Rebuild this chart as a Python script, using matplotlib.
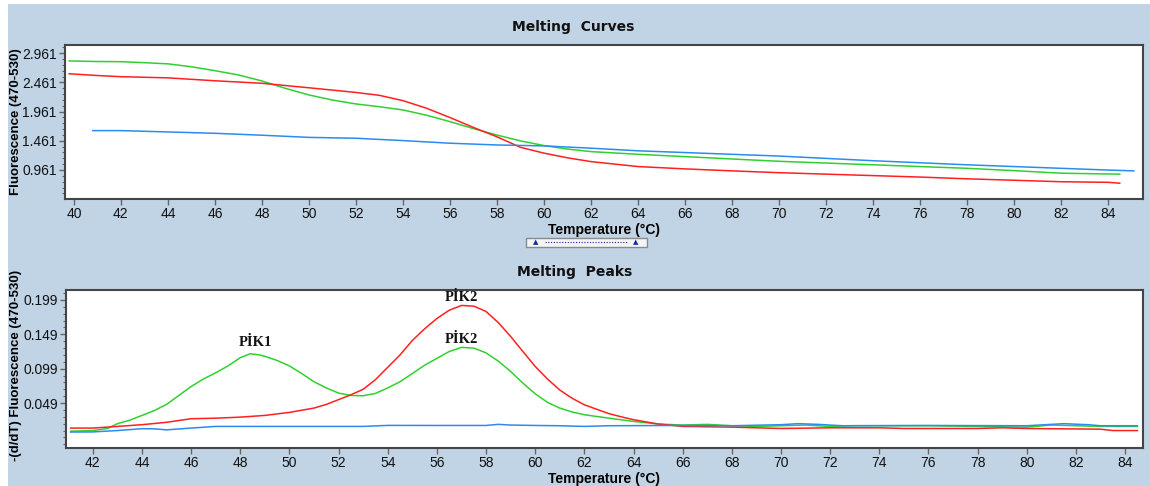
import numpy as np
import matplotlib
matplotlib.use("Agg")
import matplotlib.pyplot as plt
from matplotlib.patches import Rectangle
from matplotlib.lines import Line2D
from matplotlib.ticker import FixedLocator

# ---- melting curves (top) ----
t_green_top = [39.8, 41, 42, 43, 44, 45, 46, 47, 48, 49, 50, 51, 52, 53, 54, 55, 56, 57, 58, 59,
               60, 61, 62, 64, 66, 68, 70, 72, 74, 76, 78, 80, 82, 84.5]
f_green_top = [2.83, 2.82, 2.817, 2.80, 2.78, 2.73, 2.663, 2.59, 2.487, 2.36, 2.247, 2.16, 2.093, 2.045,
               1.99, 1.90, 1.79, 1.67, 1.56, 1.46, 1.38, 1.32, 1.276, 1.23, 1.19, 1.15, 1.11, 1.08,
               1.05, 1.02, 0.99, 0.95, 0.906, 0.89]

t_red_top = [39.8, 41, 42, 44, 46, 48, 50, 51, 52, 53, 54, 55, 56, 57, 58, 59, 60, 61, 62, 64, 66,
             68, 70, 72, 74, 76, 78, 80, 82, 84, 84.5]
f_red_top = [2.61, 2.58, 2.56, 2.54, 2.49, 2.447, 2.37, 2.33, 2.29, 2.24, 2.15, 2.02, 1.86, 1.69, 1.53,
             1.35, 1.25, 1.17, 1.105, 1.02, 0.98, 0.946, 0.915, 0.89, 0.865, 0.84, 0.81, 0.785,
             0.76, 0.75, 0.735]

t_blue_top = [40.8, 42, 44, 46, 48, 50, 52, 54, 56, 58, 60, 62, 64, 66, 68, 70, 72, 74, 76, 78, 80,
              82, 84, 85.1]
f_blue_top = [1.636, 1.636, 1.613, 1.59, 1.557, 1.52, 1.505, 1.465, 1.42, 1.39, 1.374, 1.335, 1.29,
              1.26, 1.23, 1.20, 1.16, 1.12, 1.085, 1.05, 1.02, 0.99, 0.96, 0.946]

top_yticks = [0.961, 1.461, 1.961, 2.461, 2.961]
top_xticks = list(range(40, 86, 2))

# ---- melting peaks (bottom) ----
t_green_bot = [41.1, 42, 42.6, 43, 43.5, 44, 44.5, 45, 45.5, 46, 46.5, 47, 47.5, 48, 48.4, 48.8, 49,
               49.5, 50, 50.5, 51, 51.5, 52, 52.5, 53, 53.5, 54, 54.5, 55, 55.5, 56, 56.5, 57, 57.5,
               58, 58.5, 59, 59.5, 60, 60.5, 61, 61.5, 62, 63, 64, 65, 66, 67, 68, 69, 70, 71, 72,
               73, 74, 75, 76, 78, 80, 81, 82, 83, 84.5]
d_green_bot = [0.008, 0.009, 0.012, 0.019, 0.024, 0.031, 0.038, 0.047, 0.060, 0.073, 0.084, 0.093,
               0.103, 0.115, 0.1207, 0.119, 0.117, 0.111, 0.103, 0.092, 0.080, 0.071, 0.0635, 0.060,
               0.0596, 0.063, 0.071, 0.080, 0.092, 0.104, 0.114, 0.124, 0.130, 0.129, 0.122, 0.110,
               0.095, 0.078, 0.0625, 0.050, 0.0417, 0.036, 0.032, 0.027, 0.0223, 0.0185, 0.017,
               0.018, 0.016, 0.015, 0.016, 0.017, 0.015, 0.016, 0.016, 0.016, 0.016, 0.015, 0.014,
               0.017, 0.016, 0.015, 0.015]

t_red_bot = [41.1, 42, 43, 44, 45, 46, 47, 48, 49, 50, 51, 51.5, 52, 52.5, 53, 53.5, 54, 54.5, 55,
             55.5, 56, 56.5, 57, 57.5, 58, 58.5, 59, 59.5, 60, 60.5, 61, 61.5, 62, 62.5, 63, 63.5,
             64, 65, 66, 68, 69, 70, 72, 74, 75, 78, 79, 80, 83, 83.5, 84.5]
d_red_bot = [0.0126, 0.0126, 0.015, 0.0175, 0.021, 0.0262, 0.027, 0.0285, 0.031, 0.0354, 0.0417,
             0.047, 0.054, 0.061, 0.069, 0.083, 0.101, 0.119, 0.140, 0.157, 0.172, 0.184, 0.191,
             0.190, 0.1823, 0.166, 0.146, 0.124, 0.1023, 0.084, 0.068, 0.056, 0.0465, 0.040,
             0.0336, 0.029, 0.0248, 0.0185, 0.015, 0.014, 0.013, 0.012, 0.013, 0.013, 0.012,
             0.012, 0.013, 0.012, 0.011, 0.009, 0.009]

t_blue_bot = [41.1, 42, 43, 44, 44.5, 45, 46, 47, 50, 53, 54, 56, 58, 58.5, 59, 60, 61, 62, 63, 66,
              68, 70, 70.7, 71.5, 72.5, 76, 80, 81, 81.5, 82.5, 83, 84.5]
d_blue_bot = [0.0068, 0.007, 0.009, 0.0117, 0.0115, 0.010, 0.0126, 0.015, 0.015, 0.015, 0.0165,
              0.0164, 0.0164, 0.018, 0.017, 0.0164, 0.016, 0.015, 0.016, 0.0164, 0.016, 0.0175,
              0.019, 0.018, 0.016, 0.0164, 0.016, 0.018, 0.019, 0.0175, 0.016, 0.016]

bot_yticks = [0.049, 0.099, 0.149, 0.199]
bot_xticks = list(range(42, 86, 2))

peak_labels = ["PİK1", "PİK2", "PİK2"]
peak_x = [48.6, 57.0, 57.0]
peak_y = [0.1366, 0.2021, 0.141]

RED = "#ff2020"
GREEN = "#30d030"
BLUE = "#2a8cf0"
PANEL = "#c1d4e5"
FRAME = "#454545"

plt.rcParams["font.family"] = ["Liberation Sans", "DejaVu Sans"]

fig = plt.figure(figsize=(11.5, 4.86), dpi=100)
fig.patch.set_facecolor("white")
fig.add_artist(Rectangle((8 / 1150, 0), 1 - 8 / 1150, 1 - 4 / 486, transform=fig.transFigure,
                         facecolor=PANEL, edgecolor="none", zorder=0))


def style_axes(ax):
    ax.set_facecolor("white")
    for s in ax.spines.values():
        s.set_color(FRAME)
        s.set_linewidth(1.5)
    ax.tick_params(axis="both", which="major", direction="out", length=4, width=1,
                   color="#666666", labelsize=10, labelcolor="#111111", pad=2)
    ax.tick_params(axis="y", which="minor", direction="out", length=2, width=0.8, color="#666666")


ax1 = fig.add_axes([65 / 1150, 1 - 199 / 486, 1078 / 1150, 154 / 486])
style_axes(ax1)
ax1.plot(t_green_top, f_green_top, color=GREEN, lw=1.1)
ax1.plot(t_red_top, f_red_top, color=RED, lw=1.1)
ax1.plot(t_blue_top, f_blue_top, color=BLUE, lw=1.1)
ax1.set_xlim(39.62, 85.49)
ax1.set_ylim(0.464, 3.103)
ax1.set_xticks(top_xticks)
ax1.set_yticks(top_yticks)
ax1.set_yticklabels(["%.3f" % v for v in top_yticks])
ax1.yaxis.set_minor_locator(FixedLocator(np.arange(0.561, 3.1, 0.1)))
ax1.set_xlabel("Temperature (°C)", fontsize=10, fontweight="bold", labelpad=1)
ax1.set_ylabel("Fluorescence (470-530)", fontsize=9.5, fontweight="bold")
ax1.yaxis.set_label_coords((22 - 65) / 1078, 0.5)
fig.text(573 / 1150, 1 - 27 / 486, "Melting  Curves", ha="center", va="center",
         fontsize=10, fontweight="bold", family="DejaVu Sans", color="#111111")

ax2 = fig.add_axes([66 / 1150, 1 - 448 / 486, 1077 / 1150, 158 / 486])
style_axes(ax2)
ax2.plot(t_green_bot, d_green_bot, color=GREEN, lw=1.1)
ax2.plot(t_red_bot, d_red_bot, color=RED, lw=1.1)
ax2.plot(t_blue_bot, d_blue_bot, color=BLUE, lw=1.1)
ax2.set_xlim(40.91, 84.73)
ax2.set_ylim(-0.0164, 0.2135)
ax2.set_xticks(bot_xticks)
ax2.set_yticks(bot_yticks)
ax2.set_yticklabels(["%.3f" % v for v in bot_yticks])
ax2.yaxis.set_minor_locator(FixedLocator(np.arange(-0.011, 0.21, 0.01)))
ax2.set_xlabel("Temperature (°C)", fontsize=10, fontweight="bold", labelpad=1)
ax2.set_ylabel("-(d/dT) Fluorescence (470-530)", fontsize=9.5, fontweight="bold")
ax2.yaxis.set_label_coords((22 - 66) / 1077, 0.52)
for lab, x, y in zip(peak_labels, peak_x, peak_y):
    ax2.text(x, y, lab, ha="center", va="center", fontsize=10.5, fontweight="bold",
             family="Liberation Serif", color="#111111")
fig.text(575 / 1150, 1 - 272 / 486, "Melting  Peaks", ha="center", va="center",
         fontsize=10, fontweight="bold", family="DejaVu Sans", color="#111111")

# small scroll widget between the panels
fig.add_artist(Rectangle((526 / 1150, 1 - 247 / 486), 121 / 1150, 9 / 486, transform=fig.transFigure,
                         facecolor="#f4f4f4", edgecolor="#8a8a8a", lw=1, zorder=3))
fig.add_artist(Line2D([545 / 1150, 628 / 1150], [1 - 242.5 / 486] * 2, transform=fig.transFigure,
                      color="#1a2a9a", lw=0.8, ls=(0, (1, 1.5)), zorder=4))
for xp in [536, 636]:
    fig.text(xp / 1150, 1 - 242.5 / 486, "▲", ha="center", va="center", fontsize=5,
             color="#1a2a9a", family="DejaVu Sans", zorder=5)

fig.savefig("out.png", dpi=100, facecolor=fig.get_facecolor())
